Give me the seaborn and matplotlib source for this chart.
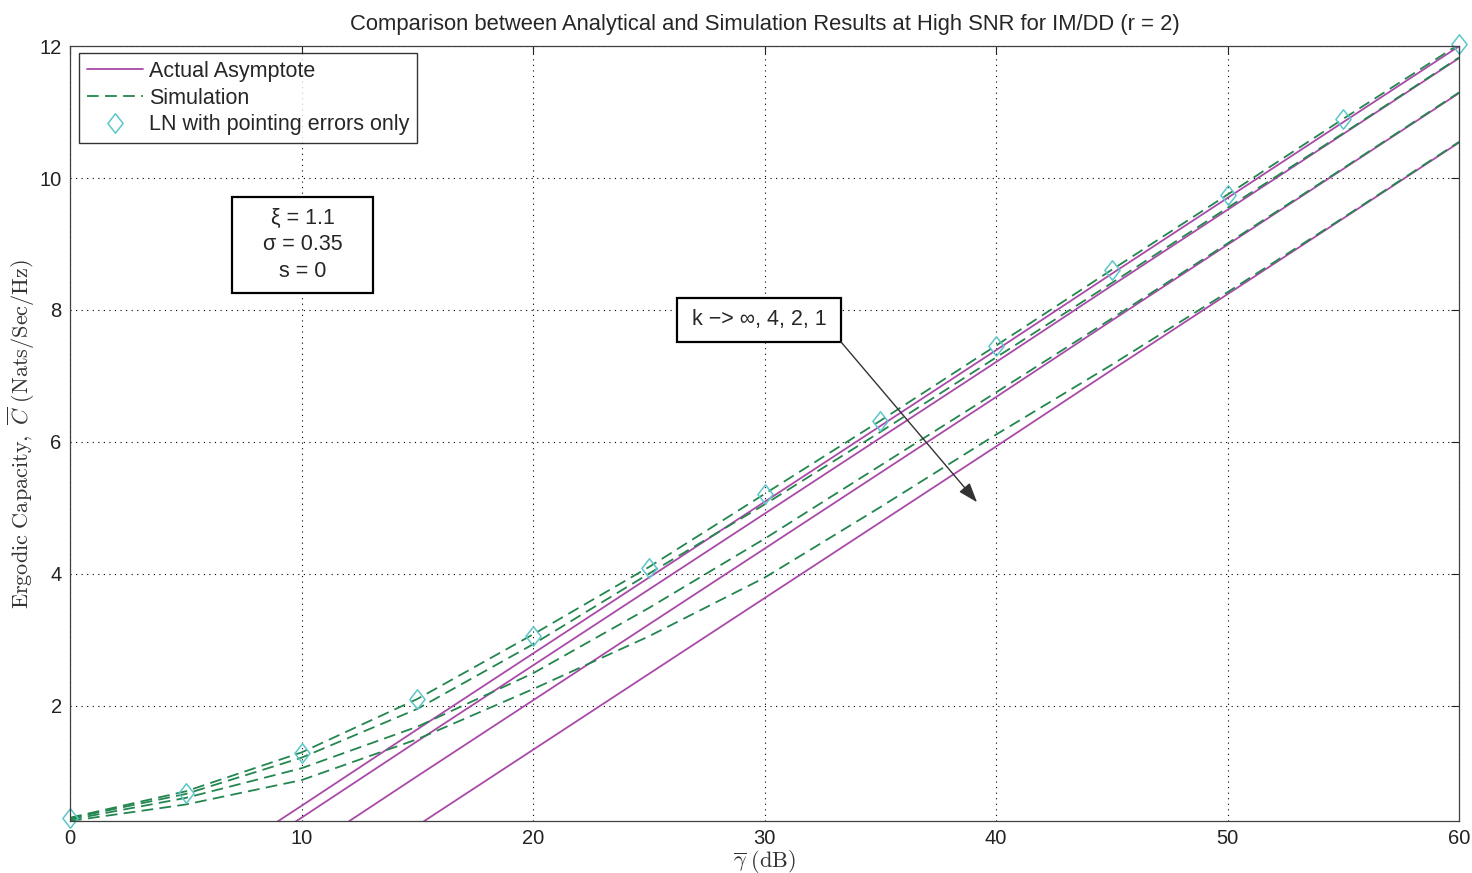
import numpy as np
import pandas as pd
import matplotlib
matplotlib.use("Agg")
import matplotlib.pyplot as plt
from matplotlib.path import Path
from matplotlib.lines import Line2D
from matplotlib.patches import Rectangle
import seaborn as sns

# average SNR grid (dB)
SNR_DB = [0, 5, 10, 15, 20, 25, 30, 35, 40, 45, 50, 55, 60]
K_LABELS = ["inf", "4", "2", "1"]

# high-SNR asymptotes (straight lines, clipped by the axes)
ASYM_K_INF = [-1.82, -0.67, 0.48, 1.64, 2.79, 3.94, 5.09, 6.24, 7.39, 8.55, 9.70, 10.85, 12.00]
ASYM_K_4 = [-2.00, -0.85, 0.30, 1.46, 2.61, 3.76, 4.91, 6.06, 7.21, 8.37, 9.52, 10.67, 11.82]
ASYM_K_2 = [-2.53, -1.38, -0.23, 0.93, 2.08, 3.23, 4.38, 5.53, 6.68, 7.84, 8.99, 10.14, 11.29]
ASYM_K_1 = [-3.28, -2.13, -0.98, 0.18, 1.33, 2.48, 3.63, 4.78, 5.93, 7.09, 8.24, 9.39, 10.54]

# Monte-Carlo simulation
SIM_K_INF = [0.30, 0.70, 1.29, 2.10, 3.08, 4.10, 5.21, 6.32, 7.46, 8.61, 9.75, 10.90, 12.03]
SIM_K_4 = [0.29, 0.66, 1.21, 1.95, 2.93, 4.00, 5.05, 6.15, 7.28, 8.41, 9.55, 10.68, 11.83]
SIM_K_2 = [0.27, 0.60, 1.05, 1.68, 2.49, 3.48, 4.53, 5.64, 6.75, 7.87, 9.01, 10.15, 11.30]
SIM_K_1 = [0.25, 0.50, 0.87, 1.49, 2.25, 3.05, 3.94, 5.01, 6.11, 7.17, 8.27, 9.40, 10.55]

# LN with pointing errors only
LN_POINTING = [0.30, 0.68, 1.28, 2.10, 3.05, 4.09, 5.21, 6.32, 7.46, 8.61, 9.75, 10.90, 12.04]

PINK = "#a94aa8"
GREEN = "#23864f"
CYAN = "#5cc6c8"
FS = 15.5


def long_frame(series):
    rows = []
    for k, vals in zip(K_LABELS, series):
        for x, y in zip(SNR_DB, vals):
            rows.append({"snr": x, "capacity": y, "k": k})
    return pd.DataFrame(rows)


def main():
    sns.set_theme(style="white")
    plt.rcParams["font.family"] = ["Liberation Sans", "DejaVu Sans"]
    plt.rcParams["mathtext.fontset"] = "cm"

    asym = long_frame([ASYM_K_INF, ASYM_K_4, ASYM_K_2, ASYM_K_1])
    sim = long_frame([SIM_K_INF, SIM_K_4, SIM_K_2, SIM_K_1])

    fig = plt.figure(figsize=(14.72, 8.73), dpi=100)
    ax = fig.add_axes([0.0476, 0.0596, 0.9436, 0.8874])

    sns.lineplot(data=asym, x="snr", y="capacity", units="k", estimator=None,
                 color=PINK, linewidth=1.3, legend=False, ax=ax)
    sns.lineplot(data=sim, x="snr", y="capacity", units="k", estimator=None,
                 color=GREEN, linewidth=1.3, linestyle=(0, (6.5, 3.5)), legend=False, ax=ax)

    diamond = Path([(0, 1), (0.78, 0), (0, -1), (-0.78, 0), (0, 1)],
                   [Path.MOVETO, Path.LINETO, Path.LINETO, Path.LINETO, Path.CLOSEPOLY])
    sns.lineplot(x=SNR_DB, y=LN_POINTING, marker=diamond, linestyle="none",
                 markersize=14, markerfacecolor="none", markeredgecolor=CYAN,
                 markeredgewidth=1.1, color=CYAN, clip_on=False, ax=ax)

    ax.set_xlim(0, 60)
    ax.set_ylim(0.25, 12)
    ax.set_xticks([0, 10, 20, 30, 40, 50, 60])
    ax.set_yticks([2, 4, 6, 8, 10, 12])
    ax.grid(True, color="black", linestyle=(0, (1, 4)), linewidth=0.8)
    ax.set_axisbelow(True)
    ax.tick_params(direction="in", length=6, width=0.8, top=True, right=True,
                   labelsize=14.5, colors="#222222", pad=6)
    for sp in ax.spines.values():
        sp.set_color("#404040")
        sp.set_linewidth(0.9)

    ax.set_title("Comparison between Analytical and Simulation Results at High SNR for IM/DD (r = 2)",
                 fontsize=15.8, pad=12)
    ax.set_xlabel(r"$\overline{\gamma}\ \mathrm{(dB)}$", fontsize=16, color="#333333")
    ax.set_ylabel(r"$\mathrm{Ergodic\ Capacity,}\ \overline{C}\ \mathrm{(Nats/Sec/Hz)}$",
                  fontsize=16, color="#333333")
    ax.xaxis.set_label_coords(0.5, -0.035)
    ax.yaxis.set_label_coords(-0.024, 0.5)

    handles = [
        Line2D([], [], color=PINK, linewidth=1.3, label="Actual Asymptote"),
        Line2D([], [], color=GREEN, linewidth=1.3, linestyle=(0, (6.5, 3.5)), label="Simulation"),
        Line2D([], [], color=CYAN, marker=diamond, linestyle="none", markersize=14,
               markerfacecolor="none", markeredgewidth=1.1, label="LN with pointing errors only"),
    ]
    leg = ax.legend(handles=handles, loc="upper left", bbox_to_anchor=(0.0065, 0.991),
                    borderaxespad=0, fontsize=FS, handlelength=2.6, handletextpad=0.3,
                    labelspacing=0.27, frameon=True, fancybox=False, borderpad=0.35)
    leg.get_frame().set_edgecolor("black")
    leg.get_frame().set_linewidth(1.0)

    # parameter box
    ax.add_patch(Rectangle((0.1166, 0.6818), 0.1015, 0.1242, transform=ax.transAxes,
                           fill=True, facecolor="white", edgecolor="black", linewidth=1.6, zorder=5))
    ax.text(0.1674, 0.744, "ξ = 1.1\nσ = 0.35\ns = 0", transform=ax.transAxes,
            ha="center", va="center", fontsize=FS, linespacing=1.35, zorder=6)

    # k annotation with arrow
    ax.add_patch(Rectangle((0.437, 0.6184), 0.118, 0.0569, transform=ax.transAxes,
                           fill=True, facecolor="white", edgecolor="black", linewidth=1.6, zorder=5))
    ax.text(0.496, 0.647, "k −> ∞, 4, 2, 1", transform=ax.transAxes,
            ha="center", va="center", fontsize=FS, zorder=6)
    ax.annotate("", xy=(0.653, 0.4114), xytext=(0.555, 0.6184), xycoords="axes fraction",
                textcoords="axes fraction", zorder=6,
                arrowprops=dict(arrowstyle="-|>,head_length=1.0,head_width=0.35",
                                color="#333333", linewidth=1.0, shrinkA=0, shrinkB=0))

    fig.savefig("out.png", dpi=100)
    plt.close(fig)


if __name__ == "__main__":
    main()
